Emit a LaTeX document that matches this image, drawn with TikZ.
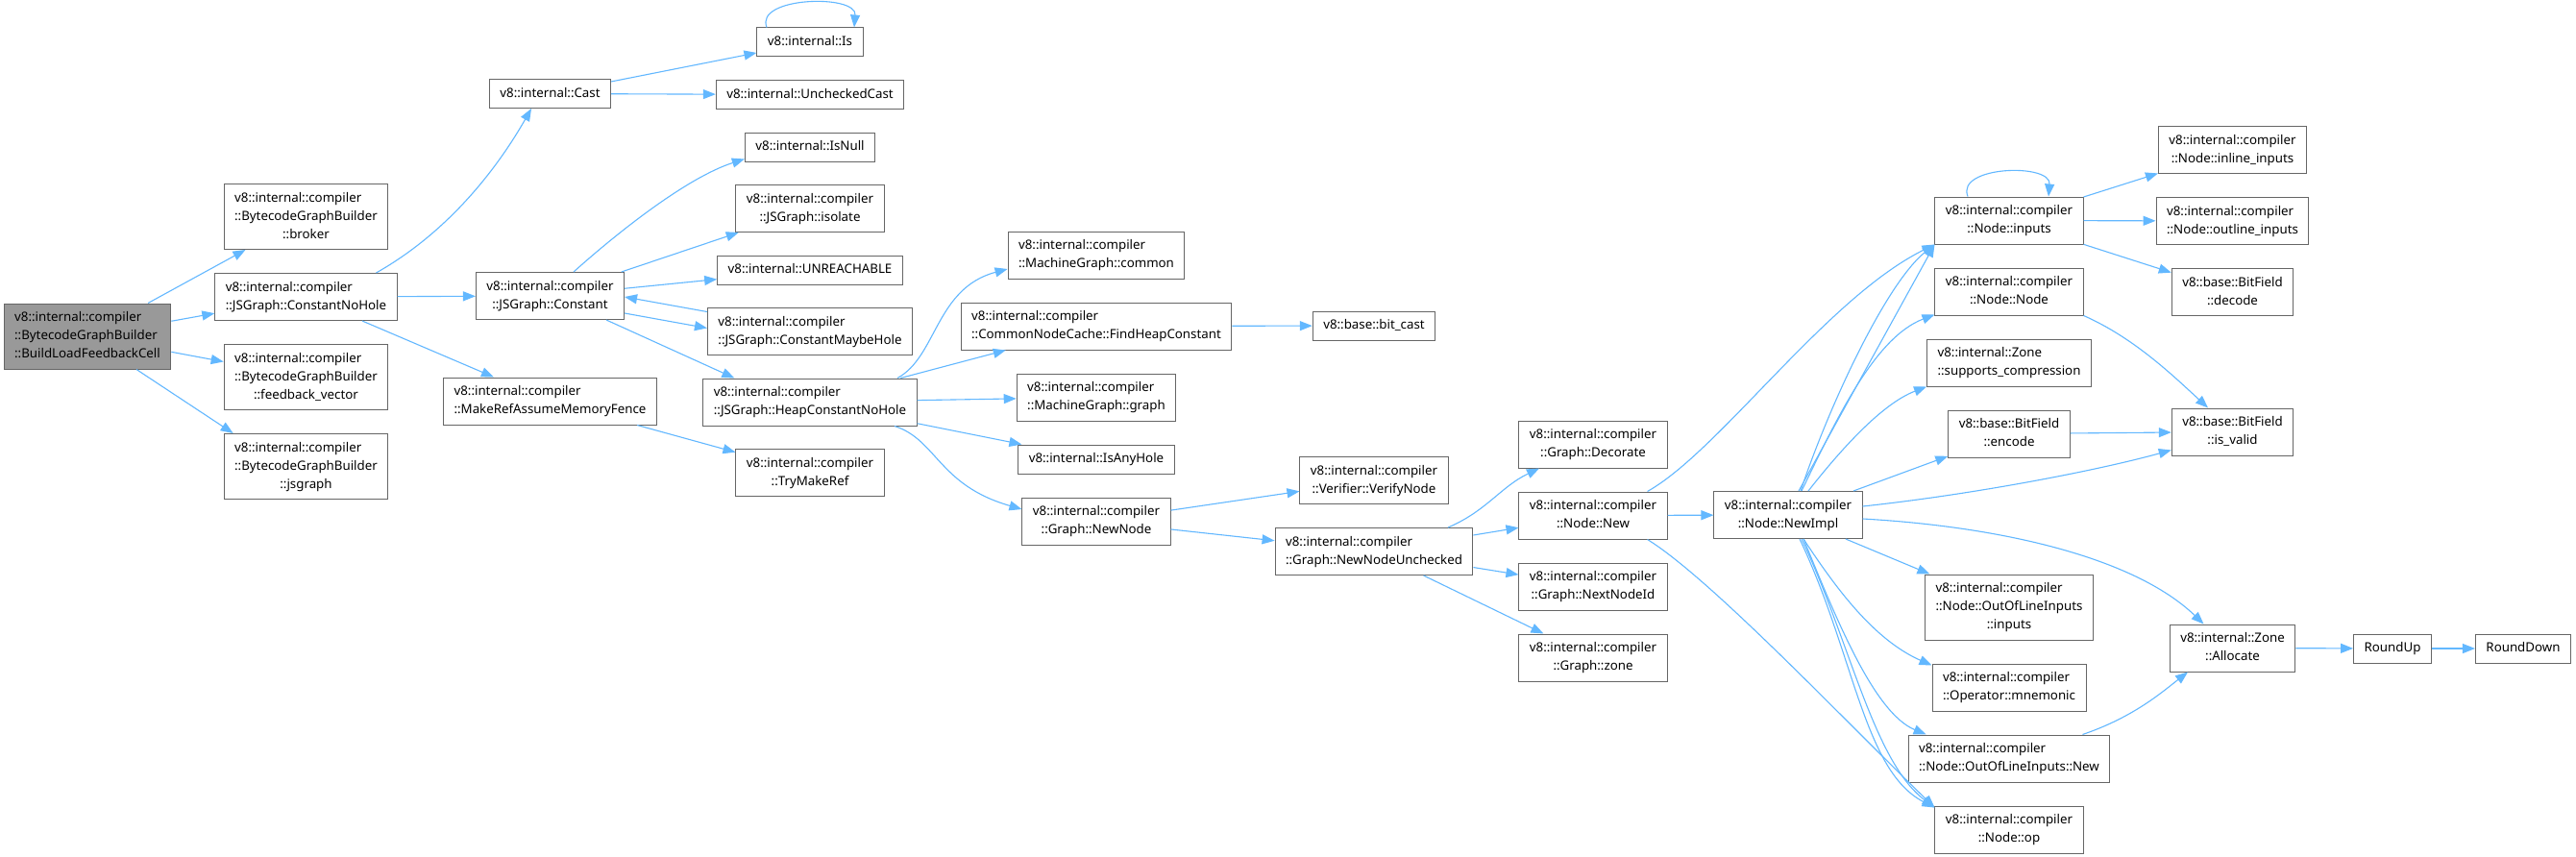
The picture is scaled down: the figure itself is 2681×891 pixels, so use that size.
\documentclass[tikz,border=0pt]{standalone}
\usepackage{fontspec}
\setmainfont{Noto Sans}
\usetikzlibrary{arrows.meta,positioning,calc}
\definecolor{edgeblue}{HTML}{63B8FF}
\definecolor{boxgray}{HTML}{666666}
\definecolor{rootgray}{HTML}{999999}
\newcommand{\fn}[1]{\begin{tabular}{@{}l@{}}#1\end{tabular}}
\newcommand{\fnc}[2]{\begin{tabular}{@{}l@{}}#1\\\multicolumn{1}{@{}c@{}}{#2}\end{tabular}}

\begin{document}
\begin{tikzpicture}[
  x=1pt,y=-1pt,
  node distance=24pt and 40pt,
  fnbox/.style={draw=boxgray,line width=1pt,fill=white,inner xsep=11pt,inner ysep=5.5pt,font=\fontsize{13.3}{19}\selectfont},
  fnroot/.style={fnbox,fill=rootgray},
  callarr/.style={draw=edgeblue,line width=1.1pt,-{Triangle[length=13pt,width=10pt]}}
]
\useasboundingbox[fill=white] (0,0) rectangle (2681,891);
\node[fnroot] (root) at (91,350) {\fnc{v8::internal::compiler\\::BytecodeGraphBuilder}{::BuildLoadFeedbackCell}};
\node[fnbox] (broker) at (318.5,225.5) {\fnc{v8::internal::compiler\\::BytecodeGraphBuilder}{::broker}};
\node[fnbox,below=of broker] (cnh) {\fnc{v8::internal::compiler}{::JSGraph::ConstantNoHole}};
\node[fnbox,below=of cnh] (fv) {\fnc{v8::internal::compiler\\::BytecodeGraphBuilder}{::feedback\_vector}};
\node[fnbox,below=of fv] (jsg) {\fnc{v8::internal::compiler\\::BytecodeGraphBuilder}{::jsgraph}};
\node[fnbox] (cast) at (572.5,97.5) {\fn{v8::internal::Cast}};
\node[fnbox] (constant) at (572.5,308) {\fnc{v8::internal::compiler}{::JSGraph::Constant}};
\node[fnbox] (makeref) at (572.5,417.5) {\fnc{v8::internal::compiler}{::MakeRefAssumeMemoryFence}};
\node[fnbox] (is) at (843,44) {\fn{v8::internal::Is}};
\node[fnbox,below=23.5pt of is] (unchecked) {\fn{v8::internal::UncheckedCast}};
\node[fnbox,below=23.5pt of unchecked] (isnull) {\fn{v8::internal::IsNull}};
\node[fnbox,below=23.5pt of isnull] (isolate) {\fnc{v8::internal::compiler}{::JSGraph::isolate}};
\node[fnbox,below=23.5pt of isolate] (unreach) {\fn{v8::internal::UNREACHABLE}};
\node[fnbox,below=23.5pt of unreach] (cmh) {\fnc{v8::internal::compiler}{::JSGraph::ConstantMaybeHole}};
\node[fnbox,below=23.5pt of cmh] (hcnh) {\fnc{v8::internal::compiler}{::JSGraph::HeapConstantNoHole}};
\node[fnbox,below=23.5pt of hcnh] (trymakeref) {\fnc{v8::internal::compiler}{::TryMakeRef}};
\node[fnbox] (common) at (1141,265.5) {\fnc{v8::internal::compiler}{::MachineGraph::common}};
\node[fnbox,below=of common] (findhc) {\fnc{v8::internal::compiler}{::CommonNodeCache::FindHeapConstant}};
\node[fnbox,below=of findhc] (mgraph) {\fnc{v8::internal::compiler}{::MachineGraph::graph}};
\node[fnbox,below=of mgraph] (isanyhole) {\fn{v8::internal::IsAnyHole}};
\node[fnbox,below=of isanyhole] (newnode) {\fnc{v8::internal::compiler}{::Graph::NewNode}};
\node[fnbox] (bitcast) at (1430,339) {\fn{v8::base::bit\_cast}};
\node[fnbox] (verify) at (1430,500) {\fnc{v8::internal::compiler}{::Verifier::VerifyNode}};
\node[fnbox,below=of verify] (nnu) {\fnc{v8::internal::compiler}{::Graph::NewNodeUnchecked}};
\node[fnbox] (decorate) at (1658,462.5) {\fnc{v8::internal::compiler}{::Graph::Decorate}};
\node[fnbox,below=of decorate] (nnew) {\fnc{v8::internal::compiler}{::Node::New}};
\node[fnbox,below=of nnew] (nextid) {\fnc{v8::internal::compiler}{::Graph::NextNodeId}};
\node[fnbox,below=of nextid] (gzone) {\fnc{v8::internal::compiler}{::Graph::zone}};
\node[fnbox] (newimpl) at (1861,536) {\fnc{v8::internal::compiler}{::Node::NewImpl}};
\node[fnbox] (inputs) at (2091,229.5) {\fnc{v8::internal::compiler}{::Node::inputs}};
\node[fnbox,below=of inputs] (nnode) {\fnc{v8::internal::compiler}{::Node::Node}};
\node[fnbox,below=of nnode] (supports) {\fnc{v8::internal::Zone}{::supports\_compression}};
\node[fnbox,below=of supports] (encode) {\fnc{v8::base::BitField}{::encode}};
\node[fnbox] (oolinputs) at (2091,632) {\fnc{v8::internal::compiler\\::Node::OutOfLineInputs}{::inputs}};
\node[fnbox,below=of oolinputs] (mnemonic) {\fnc{v8::internal::compiler}{::Operator::mnemonic}};
\node[fnbox,below=of mnemonic] (oolnew) {\fnc{v8::internal::compiler}{::Node::OutOfLineInputs::New}};
\node[fnbox,below=of oolnew] (op) {\fnc{v8::internal::compiler}{::Node::op}};
\node[fnbox] (inline) at (2323.5,156) {\fnc{v8::internal::compiler}{::Node::inline\_inputs}};
\node[fnbox,below=of inline] (outline) {\fnc{v8::internal::compiler}{::Node::outline\_inputs}};
\node[fnbox,below=of outline] (decode) {\fnc{v8::base::BitField}{::decode}};
\node[fnbox] (isvalid) at (2323.5,449.5) {\fnc{v8::base::BitField}{::is\_valid}};
\node[fnbox] (allocate) at (2323.5,674.5) {\fnc{v8::internal::Zone}{::Allocate}};
\node[fnbox] (roundup) at (2490,675) {\fn{RoundUp}};
\node[fnbox] (rounddown) at (2626,675) {\fn{RoundDown}};
% straight calls
\foreach \a/\b in {root/broker,root/cnh,root/fv,cnh/constant,cnh/makeref,cast/is,cast/unchecked,
  constant/isolate,constant/unreach,makeref/trymakeref,hcnh/findhc,hcnh/mgraph,hcnh/isanyhole,
  findhc/bitcast,newnode/verify,newnode/nnu,nnu/nnew,nnu/nextid,nnu/gzone,nnew/newimpl,
  newimpl/encode,newimpl/oolinputs,inputs/inline,inputs/outline,inputs/decode,encode/isvalid,
  allocate/roundup,roundup/rounddown}
  \draw[callarr] (\a) -- (\b);
\draw[callarr] ($(root.south)+(51,0)$) -- ($(jsg.north west)+(10,0)$);
\draw[callarr] ($(constant.south)+(58.5,0)$) -- ($(hcnh.north west)+(33,0)$);
\draw[callarr] ($(constant.east)+(0,18)$) -- ($(cmh.west)+(0,-3.5)$);
\draw[callarr] ($(cmh.west)+(0,-20.5)$) -- ($(constant.east)+(0,1)$);
\draw[callarr] ($(newimpl.north)+(11,0)$) -- (inputs.south west);
% curved calls
\draw[callarr] ($(cnh.north)+(73,0)$) .. controls +(78,-44) and +(-33,58) .. ($(cast.south)+(-19.5,0)$);
\draw[callarr] ($(constant.north)+(24.5,0)$) .. controls +(48,-43) and +(-59,19) .. ($(isnull.south west)+(0,-3)$);
\draw[callarr] ($(hcnh.north)+(91,0)$) .. controls +(41,-22) and +(-75,20) .. ($(common.west)+(0,14.5)$);
\draw[callarr] ($(hcnh.south)+(88,0)$) .. controls +(44,14) and +(-87,-25) .. ($(newnode.west)+(0,-12.5)$);
\draw[callarr] ($(nnu.north)+(77,0)$) .. controls +(40,-17) and +(-40,19) .. ($(decorate.south)+(-56,0)$);
\draw[callarr] ($(nnew.north east)+(-21,0)$) .. controls +(75,-42) and +(-113,56) .. (inputs.south west);
\draw[callarr] ($(nnew.south east)+(-21,0)$) .. controls +(65,40) and +(-94,-91) .. ($(op.north west)+(0,2)$);
\draw[callarr] ($(newimpl.north)+(13,0)$) .. controls +(30,-90) and +(-50,40) .. (inputs.south west);
\draw[callarr] ($(newimpl.north)+(14,0)$) .. controls +(35,-72) and +(-63,24) .. ($(nnode.south west)+(0,-1)$);
\draw[callarr] ($(newimpl.north)+(21,0)$) .. controls +(33,-42) and +(-47,18) .. (supports.south west);
\draw[callarr] ($(newimpl.east)+(0,-9)$) .. controls +(112,-12) and +(-80,22) .. ($(isvalid.south west)+(0,-6)$);
\draw[callarr] ($(newimpl.east)+(0,4)$) .. controls +(142,8) and +(-73,-70) .. ($(allocate.north)+(-30,0)$);
\draw[callarr] ($(newimpl.south)+(16,0)$) .. controls +(33,50) and +(-61,-27) .. ($(mnemonic.north west)+(0,2)$);
\draw[callarr] ($(newimpl.south)+(16,0)$) .. controls +(33,80) and +(-55,-23) .. ($(oolnew.north west)+(19,0)$);
\draw[callarr] ($(newimpl.south)+(12,0)$) .. controls +(57,120) and +(-74,-38) .. ($(op.north west)+(0,2)$);
\draw[callarr] ($(newimpl.south)+(14,0)$) .. controls +(50,105) and +(-64,-48) .. ($(op.north west)+(0,2)$);
\draw[callarr] ($(oolnew.north east)+(-29,0)$) .. controls +(53,-18) and +(-27,21) .. ($(allocate.south)+(-46.5,0)$);
\draw[callarr] (nnode.south east) .. controls +(52,23) and +(-38,-35) .. ($(isvalid.north)+(-25.5,0)$);
% self calls
\draw[callarr] ($(is.north)+(-45,0)$) .. controls +(-13,-32) and +(3,-35) .. ($(is.north)+(46,0)$);
\draw[callarr] ($(inputs.north)+(-43,0)$) .. controls +(-13,-32) and +(3,-35) .. ($(inputs.north)+(41,0)$);
\end{tikzpicture}
\end{document}
